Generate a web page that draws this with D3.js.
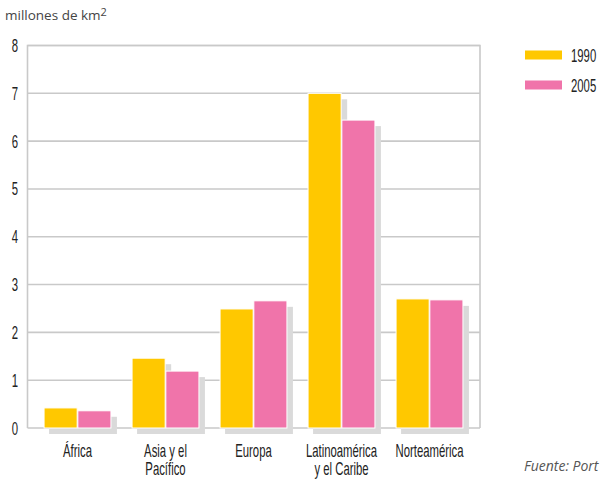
<!DOCTYPE html>
<html><head><meta charset="utf-8">
<script src="https://cdn.jsdelivr.net/npm/d3@7"></script>
<style>
body{margin:0;background:#fff;}
svg{display:block;}
.cond{font-family:"Liberation Sans",Arial,sans-serif;}
</style>
</head><body>
<script>
const categories = [["África"], ["Asia y el", "Pacífico"], ["Europa"], ["Latinoamérica", "y el Caribe"], ["Norteamérica"]];
const seriesNames = ["1990", "2005"];
const values1990 = [0.42, 1.46, 2.49, 7.0, 2.70];
const values2005 = [0.36, 1.19, 2.66, 6.44, 2.68];
const yTicks = [0, 1, 2, 3, 4, 5, 6, 7, 8];
const colors = ["#FFC800", "#F074AA"];

const W = 601, H = 481;
const SX = 0.63;
const svg = d3.select("body").append("svg").attr("width", W).attr("height", H);

const y = d3.scaleLinear().domain([0, 8]).range([428, 45.5]);
const keys = categories.map((c, i) => i);
const x0 = d3.scaleBand().domain(keys).range([33.5, 473.5]).paddingInner(0.24).paddingOuter(0.12);
const x1 = d3.scaleBand().domain(seriesNames).range([0, x0.bandwidth()]).paddingInner(0.02);

const grid = "#c9c9c9";
svg.append("g").selectAll("line").data(yTicks).join("line")
  .attr("x1", 27.5).attr("x2", 480).attr("y1", d => y(d)).attr("y2", d => y(d))
  .attr("stroke", grid).attr("stroke-width", 1.6);
svg.append("path")
  .attr("d", `M27.5,${y(0)}V${y(8)}H480V${y(0)}`)
  .attr("fill", "none").attr("stroke", grid).attr("stroke-width", 1.6);

const data = keys.map(i => [values1990[i], values2005[i]]);
const groups = svg.append("g").selectAll("g").data(data).join("g")
  .attr("transform", (d, i) => `translate(${x0(i)},0)`);
groups.selectAll("rect.sh").data(d => d.map((v, j) => ({v, j}))).join("rect")
  .attr("class", "sh")
  .attr("x", d => x1(seriesNames[d.j]) + 5)
  .attr("y", d => y(d.v) + 6)
  .attr("width", x1.bandwidth() + 1)
  .attr("height", d => y(0) - y(d.v))
  .attr("fill", "#dadada");
groups.selectAll("rect.bar").data(d => d.map((v, j) => ({v, j}))).join("rect")
  .attr("class", "bar")
  .attr("x", d => x1(seriesNames[d.j]))
  .attr("y", d => y(d.v))
  .attr("width", x1.bandwidth())
  .attr("height", d => y(0) - y(d.v))
  .attr("fill", d => colors[d.j])
  .attr("stroke", "#fff").attr("stroke-width", 1);

svg.append("g").selectAll("text").data(yTicks).join("text")
  .attr("class", "cond")
  .attr("transform", d => `translate(15,${y(d) + 6.5}) scale(${SX},1)`)
  .attr("text-anchor", "middle")
  .attr("font-size", 18).attr("fill", "#222")
  .text(d => d);

const xl = svg.append("g").selectAll("text").data(categories).join("text")
  .attr("class", "cond")
  .attr("transform", (d, i) => `translate(${x0(i) + x0.bandwidth() / 2},456.5) scale(${SX},1)`)
  .attr("text-anchor", "middle")
  .attr("font-size", 18).attr("fill", "#222");
xl.selectAll("tspan").data(d => d).join("tspan")
  .attr("x", 0)
  .attr("dy", (d, k) => k === 0 ? 0 : 19)
  .text(d => d);

const t = svg.append("text").attr("x", 5).attr("y", 20)
  .attr("font-family", "'Open Sans', 'DejaVu Sans', sans-serif")
  .attr("font-size", 13.5).attr("fill", "#444");
t.append("tspan").text("millones de km");
t.append("tspan").attr("font-size", 11).attr("dy", -4).text("2");

const leg = svg.append("g").selectAll("g").data(seriesNames).join("g")
  .attr("transform", (d, i) => `translate(525,${50.5 + i * 30})`);
leg.append("rect").attr("width", 37).attr("height", 9).attr("fill", (d, i) => colors[i]);
leg.append("text").attr("class", "cond")
  .attr("transform", `translate(46,11) scale(${SX},1)`)
  .attr("font-size", 18).attr("fill", "#222").text(d => d);

svg.append("text").attr("x", 524).attr("y", 471)
  .attr("font-family", "'Open Sans', 'DejaVu Sans', sans-serif")
  .attr("font-style", "italic").attr("font-size", 14).attr("fill", "#555")
  .text("Fuente: Port");
</script>
</body></html>
